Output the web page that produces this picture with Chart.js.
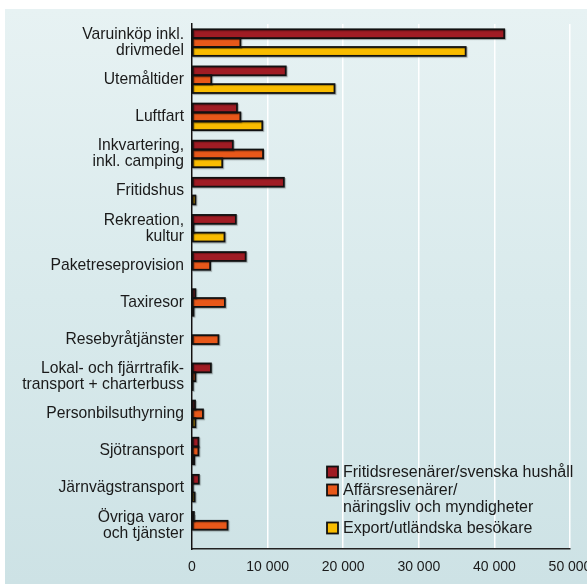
<!DOCTYPE html>
<html>
<head>
<meta charset="utf-8">
<script src="https://cdn.jsdelivr.net/npm/chart.js@4/dist/chart.umd.min.js"></script>
<style>
  html, body { margin:0; padding:0; background:#ffffff; }
  #panel { position:absolute; left:5px; top:9px; width:582px; height:575px;
           background: linear-gradient(to bottom, #e7f2f3 0%, #d9eaec 50%, #cde2e5 100%); }
  #wrap { position:absolute; left:0; top:0; width:587px; height:584px; }
</style>
</head>
<body>
<div id="panel"></div>
<div id="wrap"><canvas id="c" width="587" height="584"></canvas></div>
<script>
const categories = [
  ["Varuinköp inkl.", "drivmedel"],
  "Utemåltider",
  "Luftfart",
  ["Inkvartering,", "inkl. camping"],
  "Fritidshus",
  ["Rekreation,", "kultur"],
  "Paketreseprovision",
  "Taxiresor",
  "Resebyråtjänster",
  ["Lokal- och fjärrtrafik-", "transport + charterbuss"],
  "Personbilsuthyrning",
  "Sjötransport",
  "Järnvägstransport",
  ["Övriga varor", "och tjänster"]
];
const seriesNames = [
  "Fritidsresenärer/svenska hushåll",
  ["Affärsresenärer/", "näringsliv och myndigheter"],
  "Export/utländska besökare"
];
const fritid  = [41300, 12400, 5950, 5400, 12150, 5800, 7100, 450, 0, 2500, 400, 850, 900, 250];
const affars  = [6400, 2550, 6400, 9400, 0, 200, 2400, 4350, 3500, 450, 1450, 850, 100, 4700];
const export_ = [36200, 18850, 9300, 4000, 450, 4300, 0, 200, 0, 100, 450, 300, 350, 0];
const xTicks = [0, 10000, 20000, 30000, 40000, 50000];
const colors = ["#a01c24", "#e8581a", "#f9bc00"];

const FONT = '"Liberation Sans", Arial, sans-serif';

const legendPlugin = {
  id: 'insideLegend',
  afterDraw(chart) {
    const ctx = chart.ctx;
    ctx.save();
    ctx.font = '16px ' + FONT;
    ctx.textBaseline = 'middle';
    const x0 = 327, size = 11;
    const rows = [
      {c: colors[0], lines: [[seriesNames[0], 472]]},
      {c: colors[1], lines: [[seriesNames[1][0], 490], [seriesNames[1][1], 507]], sq: 490},
      {c: colors[2], lines: [[seriesNames[2], 528]]}
    ];
    rows.forEach(r => {
      const sy = r.sq || r.lines[0][1];
      ctx.fillStyle = r.c;
      ctx.fillRect(x0, sy - size/2, size, size);
      ctx.strokeStyle = '#111';
      ctx.lineWidth = 1.8;
      ctx.strokeRect(x0, sy - size/2, size, size);
      ctx.fillStyle = '#1a1a1a';
      r.lines.forEach(([t, y]) => ctx.fillText(t, x0 + 16, y + 0.5));
    });
    ctx.restore();
  }
};
// Outline each bar with a stroke centred on its edge (as in the original), plus a soft shadow
const outlinePlugin = {
  id: 'barOutline',
  afterDatasetsDraw(chart) {
    const ctx = chart.ctx;
    ctx.save();
    ctx.shadowColor = 'rgba(0,0,0,0.3)';
    ctx.shadowBlur = 1;
    ctx.shadowOffsetX = 1;
    ctx.shadowOffsetY = 1;
    ctx.strokeStyle = '#111';
    ctx.lineWidth = 1.8;
    chart.data.datasets.forEach((ds, di) => {
      const meta = chart.getDatasetMeta(di);
      meta.data.forEach((el, i) => {
        if (!ds.data[i]) return;
        const p = el.getProps(['x', 'y', 'base', 'height'], true);
        const left = Math.min(p.base, p.x), right = Math.max(p.base, p.x);
        ctx.strokeRect(left, p.y - p.height / 2, right - left, p.height);
      });
    });
    ctx.restore();
  }
};

const mkDs = (label, data, color) => ({
  label, data, backgroundColor: color, borderWidth: 0,
  categoryPercentage: 0.715, barPercentage: 1.0
});

new Chart(document.getElementById('c'), {
  type: 'bar',
  data: {
    labels: categories,
    datasets: [
      mkDs(seriesNames[0], fritid, colors[0]),
      mkDs(seriesNames[1].join(' '), affars, colors[1]),
      mkDs(seriesNames[2], export_, colors[2])
    ]
  },
  options: {
    indexAxis: 'y',
    responsive: false,
    animation: false,
    layout: { padding: { top: 21.5, right: 17, left: 0, bottom: 0 } },
    plugins: { legend: { display: false }, tooltip: { enabled: false } },
    scales: {
      x: {
        min: 0, max: 50000,
        afterBuildTicks(scale) { scale.ticks = xTicks.map(v => ({ value: v })); },
        afterFit(scale) { scale.height = 35; scale.paddingRight = 0; scale.paddingLeft = 0; },
        grid: { color: '#ffffff', lineWidth: 1.5, drawTicks: false },
        border: { color: '#222', width: 1.5 },
        ticks: {
          padding: 10,
          color: '#1a1a1a',
          font: { size: 14, family: FONT },
          callback: v => v === 0 ? '0' : String(v).replace(/\B(?=(\d{3})+(?!\d))/g, ' ')
        }
      },
      y: {
        afterBuildTicks(scale) {
          // leave a small gap below the last category, as in the original
          scale._valueRange = 14.14;
        },
        afterFit(scale) { scale.width = 192; },
        grid: { display: false, drawTicks: false },
        border: { color: '#111', width: 1.5 },
        ticks: {
          padding: 8,
          color: '#1a1a1a',
          font: { size: 15.7, family: FONT, lineHeight: 1.02 }
        }
      }
    }
  },
  plugins: [outlinePlugin, legendPlugin]
});
</script>
</body>
</html>
